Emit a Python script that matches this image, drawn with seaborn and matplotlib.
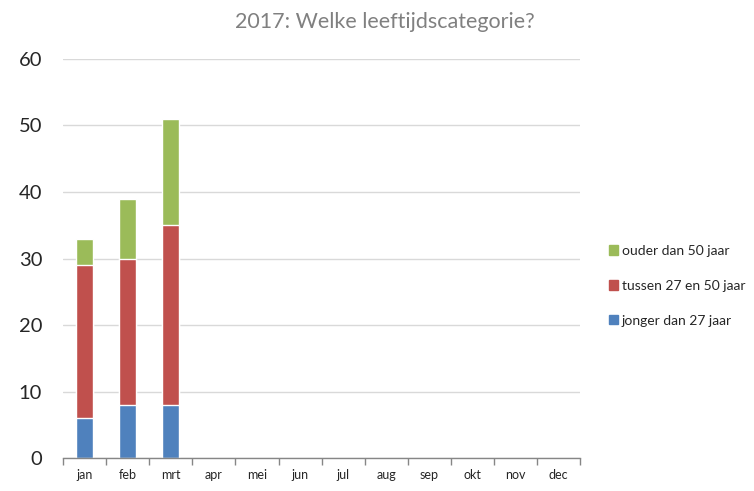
import numpy as np
import pandas as pd
import matplotlib.pyplot as plt
import seaborn as sns
from matplotlib.patches import Patch

months = ["jan", "feb", "mrt", "apr", "mei", "jun", "jul", "aug", "sep", "okt", "nov", "dec"]
jonger = [6, 8, 8] + [np.nan] * 9
tussen = [23, 22, 27] + [np.nan] * 9
ouder = [4, 9, 16] + [np.nan] * 9
series_names = ["jonger dan 27 jaar", "tussen 27 en 50 jaar", "ouder dan 50 jaar"]
colors = ["#4f81bd", "#c0504d", "#9bbb59"]

sns.set_style("white")
plt.rcParams["font.family"] = ["Lato", "DejaVu Sans"]

df = pd.DataFrame({"maand": months, "jonger": jonger, "tussen": tussen, "ouder": ouder})
df["c1"] = df["jonger"]
df["c2"] = df["jonger"] + df["tussen"]
df["c3"] = df["c2"] + df["ouder"]

fig = plt.figure(figsize=(7.54, 4.91), dpi=100)
ax = fig.add_axes([0.0836, 0.067, 0.686, 0.813])

for col, c in zip(["c3", "c2", "c1"], colors[::-1]):
    sns.barplot(data=df, x="maand", y=col, order=months, color=c, width=0.4,
                saturation=1, ax=ax, errorbar=None)

ax.set_ylim(0, 60)
ax.set_xlim(-0.5, 11.5)
ax.set_yticks(range(0, 61, 10))
ax.yaxis.grid(True, color="#d9d9d9", linewidth=1)
ax.set_axisbelow(True)
ax.set_xlabel("")
ax.set_ylabel("")
for s in ["top", "right", "left"]:
    ax.spines[s].set_visible(False)
ax.spines["bottom"].set_color("#868686")
ax.spines["bottom"].set_linewidth(1)

ax.set_xticks(np.arange(12))
ax.set_xticklabels(months, fontsize=9)
ax.tick_params(axis="x", length=0, pad=8)
ax.set_xticks(np.arange(-0.5, 12, 1), minor=True)
ax.tick_params(axis="x", which="minor", bottom=True, length=5, color="#868686", width=1)
ax.tick_params(axis="y", length=0, labelsize=14.5, pad=15)

handles = [Patch(color=c, label=n) for c, n in zip(colors, series_names)][::-1]
fig.legend(handles=handles, loc="center left", bbox_to_anchor=(0.8, 0.418),
           frameon=False, fontsize=10, handlelength=0.65, handleheight=0.65,
           handletextpad=0.3, labelspacing=1.65, borderaxespad=0)

fig.suptitle("2017: Welke leeftijdscategorie?", x=0.51, y=0.975, color="#808080", fontsize=15.5)

fig.savefig("out.png", dpi=100)
